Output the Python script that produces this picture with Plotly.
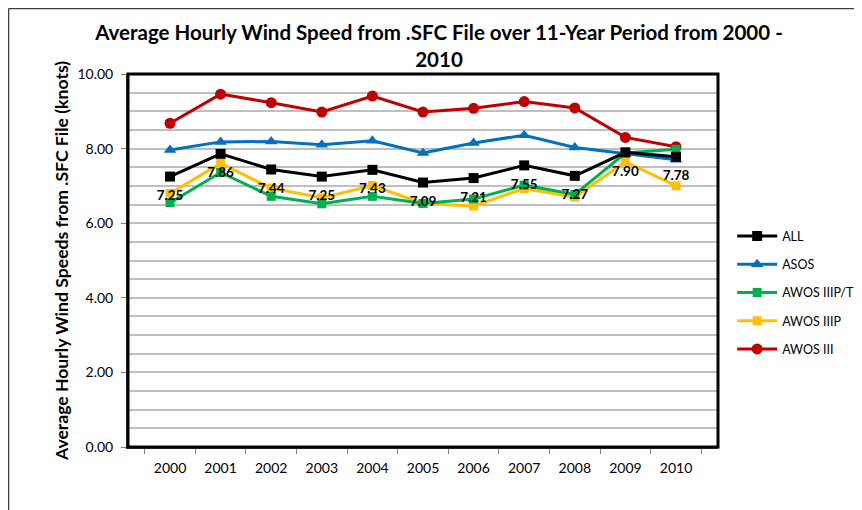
import plotly.graph_objects as go

years = ['2000', '2001', '2002', '2003', '2004', '2005', '2006', '2007', '2008', '2009', '2010']

all_sites = [7.25, 7.86, 7.44, 7.25, 7.43, 7.09, 7.21, 7.55, 7.27, 7.90, 7.78]
asos = [7.96, 8.18, 8.19, 8.10, 8.21, 7.88, 8.15, 8.36, 8.03, 7.86, 7.70]
awos_iiipt = [6.55, 7.36, 6.72, 6.52, 6.72, 6.53, 6.65, 7.02, 6.77, 7.88, 7.98]
awos_iiip = [6.80, 7.60, 6.94, 6.68, 7.01, 6.53, 6.46, 6.93, 6.70, 7.65, 7.00]
awos_iii = [8.68, 9.46, 9.23, 8.98, 9.41, 8.98, 9.08, 9.26, 9.09, 8.30, 8.05]

all_labels = ['%.2f' % v for v in all_sites]

series = [
    # name, values, colour, marker symbol, marker size, legend rank
    ('AWOS III', awos_iii, '#C00000', 'circle', 11, 5),
    ('AWOS IIIP', awos_iiip, '#FFC000', 'square', 9, 4),
    ('AWOS IIIP/T', awos_iiipt, '#00B050', 'square', 9, 3),
    ('ASOS', asos, '#0070C0', 'triangle-up', 11, 2),
    ('ALL', all_sites, '#000000', 'square', 10, 1),
]

fig = go.Figure()
for name, vals, col, sym, size, rank in series:
    fig.add_trace(go.Scatter(x=years, y=vals, name=name, mode='lines+markers',
                             line=dict(color=col, width=3),
                             marker=dict(symbol=sym, size=size, color=col),
                             legendrank=rank, legendgroup=name))

# data labels for ALL (invisible markers push the text below the point)
fig.add_trace(go.Scatter(x=years, y=all_sites, mode='markers+text', text=all_labels,
                         textposition='bottom center', showlegend=False, hoverinfo='skip',
                         marker=dict(size=20, opacity=0),
                         textfont=dict(family='Lato', size=13.5, color='black', weight='bold')))

fig.update_xaxes(type='category', tickson='boundaries', ticks='outside', ticklen=5,
                 tickcolor='#808080', showline=True, linecolor='#404040', linewidth=2,
                 showgrid=False, automargin=False, ticklabelstandoff=7,
                 tickfont=dict(family='Lato', size=14, color='black'))
fig.update_yaxes(range=[0, 10], dtick=2, tickformat='.2f', ticks='outside', ticklen=5,
                 tickcolor='#808080', showline=True, linecolor='#404040', linewidth=2,
                 gridcolor='#BFBFBF', gridwidth=1.5, zeroline=False, automargin=False,
                 ticklabelstandoff=5,
                 minor=dict(dtick=0.5, showgrid=True, gridcolor='#BFBFBF', gridwidth=1.5),
                 tickfont=dict(family='Lato', size=14, color='black'),
                 title=dict(text='Average Hourly Wind Speeds from .SFC File (knots)', standoff=4,
                            font=dict(family='Lato', size=17.6, color='black', weight='bold')))

# plot area frame and outer chart border
fig.add_shape(type='rect', xref='paper', yref='paper', x0=0, x1=1, y0=0, y1=1,
              line=dict(color='black', width=3))
fig.add_shape(type='line', xref='paper', yref='paper', x0=-0.2025, x1=1.3, y0=1.1756, y1=1.1756,
              line=dict(color='#404040', width=1.5))
fig.add_shape(type='line', xref='paper', yref='paper', x0=-0.2025, x1=-0.2025, y0=-0.2, y1=1.1756,
              line=dict(color='#404040', width=1.5))

fig.update_layout(
    width=862, height=510,
    margin=dict(l=120, r=152, t=66, b=71, autoexpand=False),
    paper_bgcolor='white', plot_bgcolor='white',
    title=dict(text='Average Hourly Wind Speed from .SFC File over 11-Year Period from 2000 -<br>2010',
               x=0.5, xanchor='center', y=0.937, yanchor='middle', automargin=False,
               font=dict(family='Lato', size=20.5, color='black', weight='bold')),
    legend=dict(x=1.024, y=0.605, xanchor='left', yanchor='top', tracegroupgap=9,
                itemwidth=40, font=dict(family='Lato', size=12.5, color='black')),
    showlegend=True,
)
fig.write_html('out.html')
